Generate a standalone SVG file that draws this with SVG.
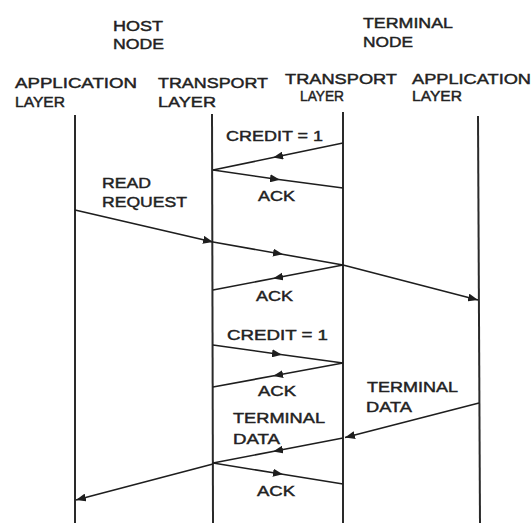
<svg xmlns="http://www.w3.org/2000/svg" width="531" height="527" viewBox="0 0 531 527">
<style>
text{font-family:"Liberation Sans",Arial,sans-serif;font-size:15.5px;fill:#222;stroke:#222;stroke-width:0.45}
.life{stroke:#2a2a2a;stroke-width:2;fill:none}
.msg{stroke:#1e1e1e;stroke-width:1.6;fill:none}
</style>
<defs>
<marker id="ah" viewBox="0 0 10 8" refX="10" refY="4" markerWidth="10" markerHeight="8" markerUnits="userSpaceOnUse" orient="auto">
<path d="M0,0 L10,4 L0,8 Z" fill="#1e1e1e"/>
</marker>
<marker id="am" viewBox="0 0 10 8" refX="5" refY="4" markerWidth="10" markerHeight="8" markerUnits="userSpaceOnUse" orient="auto">
<path d="M0,0 L10,4 L0,8 Z" fill="#1e1e1e"/>
</marker>
</defs>
<rect width="531" height="527" fill="#fff"/>
<g id="host-node-label">
<text x="113" y="31" textLength="50" lengthAdjust="spacingAndGlyphs">HOST</text>
<text x="113" y="49" textLength="51" lengthAdjust="spacingAndGlyphs">NODE</text>
</g>
<g id="terminal-node-label">
<text x="363" y="28" textLength="90" lengthAdjust="spacingAndGlyphs">TERMINAL</text>
<text x="363" y="47" textLength="50" lengthAdjust="spacingAndGlyphs">NODE</text>
</g>
<g id="host-application">
<text x="15" y="88" textLength="122" lengthAdjust="spacingAndGlyphs">APPLICATION</text>
<text x="15" y="107" textLength="50" lengthAdjust="spacingAndGlyphs">LAYER</text>
<line class="life" x1="75" y1="115" x2="75" y2="523"/>
</g>
<g id="host-transport">
<text x="158" y="88" textLength="110" lengthAdjust="spacingAndGlyphs">TRANSPORT</text>
<text x="158" y="107" textLength="58" lengthAdjust="spacingAndGlyphs">LAYER</text>
<line class="life" x1="212" y1="114" x2="213" y2="523"/>
</g>
<g id="terminal-transport">
<text x="285" y="84" textLength="112" lengthAdjust="spacingAndGlyphs">TRANSPORT</text>
<text x="300" y="101" textLength="44" lengthAdjust="spacingAndGlyphs">LAYER</text>
<line class="life" x1="343" y1="112" x2="343" y2="523"/>
</g>
<g id="terminal-application">
<text x="412" y="84" textLength="119" lengthAdjust="spacingAndGlyphs">APPLICATION</text>
<text x="412" y="101" textLength="50" lengthAdjust="spacingAndGlyphs">LAYER</text>
<line class="life" x1="478" y1="116" x2="480" y2="523"/>
</g>
<g id="connectors">
<path class="msg" d="M343,143 L278,156.5 L213,170" marker-mid="url(#am)"/>
<path class="msg" d="M213,170 L275,179 L343,188" marker-mid="url(#am)"/>
<path class="msg" d="M75,210 L213,242" marker-end="url(#ah)"/>
<path class="msg" d="M213,242 L278,253.5 L343,265" marker-mid="url(#am)"/>
<path class="msg" d="M343,265 L478,300" marker-end="url(#ah)"/>
<path class="msg" d="M343,265 L278,277.5 L213,290" marker-mid="url(#am)"/>
<path class="msg" d="M213,345 L277,354 L343,363" marker-mid="url(#am)"/>
<path class="msg" d="M343,363 L278,375 L213,387" marker-mid="url(#am)"/>
<path class="msg" d="M479,403 L345,437.5" marker-end="url(#ah)"/>
<path class="msg" d="M343,438 L278,450.5 L213,463" marker-mid="url(#am)"/>
<path class="msg" d="M213,463 L278,473.5 L343,484" marker-mid="url(#am)"/>
<path class="msg" d="M213,464 L76,500" marker-end="url(#ah)"/>
</g>
<g id="labels">
<text x="226" y="141" textLength="97" lengthAdjust="spacingAndGlyphs">CREDIT = 1</text>
<text x="258" y="201" textLength="37" lengthAdjust="spacingAndGlyphs">ACK</text>
<text x="102" y="188" textLength="49" lengthAdjust="spacingAndGlyphs">READ</text>
<text x="102" y="207" textLength="85" lengthAdjust="spacingAndGlyphs">REQUEST</text>
<text x="256" y="301" textLength="37" lengthAdjust="spacingAndGlyphs">ACK</text>
<text x="227" y="340" textLength="101" lengthAdjust="spacingAndGlyphs">CREDIT = 1</text>
<text x="258" y="396" textLength="38" lengthAdjust="spacingAndGlyphs">ACK</text>
<text x="367" y="392" textLength="91" lengthAdjust="spacingAndGlyphs">TERMINAL</text>
<text x="366" y="412" textLength="46" lengthAdjust="spacingAndGlyphs">DATA</text>
<text x="233" y="423" textLength="92" lengthAdjust="spacingAndGlyphs">TERMINAL</text>
<text x="233" y="444" textLength="47" lengthAdjust="spacingAndGlyphs">DATA</text>
<text x="257" y="496" textLength="38" lengthAdjust="spacingAndGlyphs">ACK</text>
</g>
</svg>
